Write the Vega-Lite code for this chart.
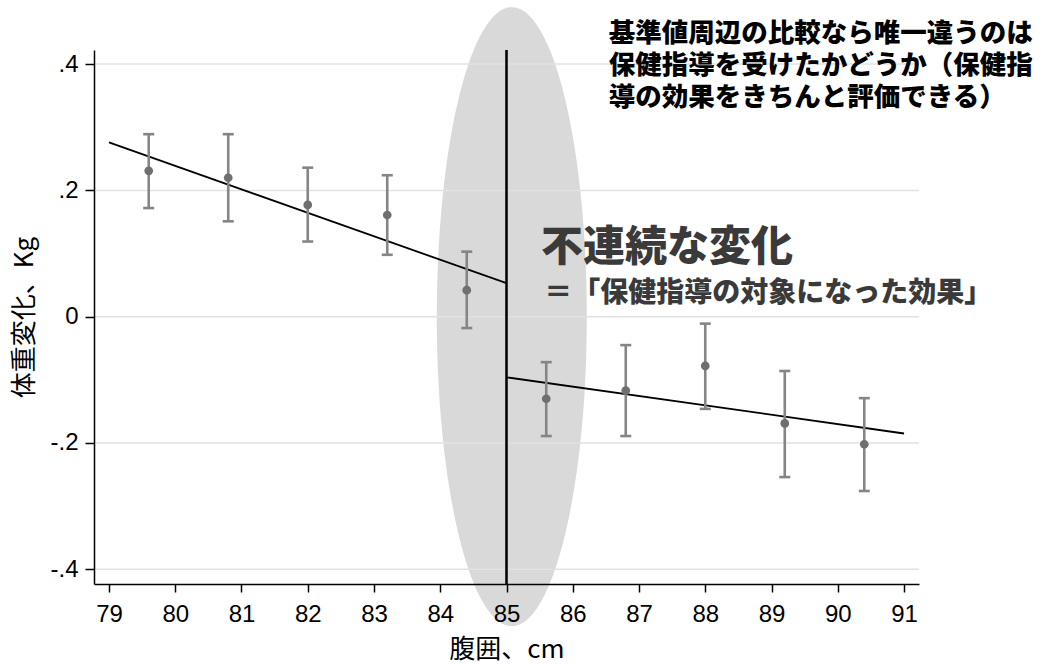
{
  "$schema": "https://vega.github.io/schema/vega-lite/v6.json",
  "autosize": "none",
  "width": 825,
  "height": 534,
  "padding": {"left": 94, "top": 50, "right": 125, "bottom": 80},
  "background": "white",
  "config": {
    "view": {"stroke": null},
    "axis": {
      "domainColor": "black", "domainWidth": 1.5, "tickColor": "black", "tickWidth": 1.5,
      "labelFont": "Liberation Sans", "labelFontSize": 24, "labelColor": "black",
      "titleFont": "Noto Sans CJK JP", "titleFontSize": 26, "titleFontWeight": "normal", "titleColor": "black",
      "grid": false, "zindex": 1
    }
  },
  "datasets": {
    "pts": [
      {"x": 79.6, "y": 0.231, "lo": 0.172, "hi": 0.289},
      {"x": 80.8, "y": 0.220, "lo": 0.151, "hi": 0.289},
      {"x": 82.0, "y": 0.177, "lo": 0.119, "hi": 0.236},
      {"x": 83.2, "y": 0.161, "lo": 0.098, "hi": 0.224},
      {"x": 84.4, "y": 0.042, "lo": -0.018, "hi": 0.103},
      {"x": 85.6, "y": -0.130, "lo": -0.189, "hi": -0.072},
      {"x": 86.8, "y": -0.117, "lo": -0.189, "hi": -0.045},
      {"x": 88.0, "y": -0.078, "lo": -0.146, "hi": -0.011},
      {"x": 89.2, "y": -0.169, "lo": -0.254, "hi": -0.086},
      {"x": 90.4, "y": -0.202, "lo": -0.276, "hi": -0.129}
    ],
    "fit": [
      {"seg": "left", "x": 79, "y": 0.276},
      {"seg": "left", "x": 85, "y": 0.053},
      {"seg": "right", "x": 85, "y": -0.096},
      {"seg": "right", "x": 91, "y": -0.185}
    ],
    "grid": [{"y": -0.4}, {"y": -0.2}, {"y": 0}, {"y": 0.2}, {"y": 0.4}],
    "focus": [{"x": 85.08, "y": 0.0}],
    "notes": [
      {"x": 86.545, "y": 0.468, "text": ["基準値周辺の比較なら唯一違うのは", "保健指導を受けたかどうか（保健指", "導の効果をきちんと評価できる）"]}
    ],
    "big": [{"x": 85.52, "y": 0.108, "text": "不連続な変化"}],
    "sub": [{"x": 85.57, "y": 0.036, "text": "＝「保健指導の対象になった効果」"}]
  },
  "layer": [
    {
      "data": {"name": "focus"},
      "mark": {"type": "point", "filled": true, "opacity": 1, "color": "#d9d9d9", "strokeWidth": 0, "size": 383161,
        "shape": "M 0 -1 C 0.1338 -1 0.2423 -0.5523 0.2423 0 C 0.2423 0.5523 0.1338 1 0 1 C -0.1338 1 -0.2423 0.5523 -0.2423 0 C -0.2423 -0.5523 -0.1338 -1 0 -1 Z"},
      "encoding": {
        "x": {"field": "x", "type": "quantitative",
          "scale": {"domain": [78.774, 91.226], "nice": false, "zero": false},
          "axis": {"values": [79, 80, 81, 82, 83, 84, 85, 86, 87, 88, 89, 90, 91], "tickSize": 8, "labelPadding": 10, "title": "腹囲、cm", "titlePadding": 10, "format": "d", "zindex": 2}},
        "y": {"field": "y", "type": "quantitative",
          "scale": {"domain": [-0.4233, 0.4223], "nice": false, "zero": false},
          "axis": {"values": [-0.4, -0.2, 0, 0.2, 0.4], "tickSize": 9, "labelPadding": 7, "title": "体重変化、Kg", "titlePadding": 12, "zindex": 2,
            "labelExpr": "datum.value == 0 ? '0' : (datum.value < 0 ? '-' : '') + replace(format(abs(datum.value), '.1f'), '0.', '.')"}}
      }
    },
    {
      "data": {"name": "grid"},
      "mark": {"type": "rule", "color": "#e2e2e2", "strokeWidth": 1.5},
      "encoding": {"y": {"field": "y", "type": "quantitative", "title": "体重変化、Kg"}}
    },
    {
      "data": {"name": "grid"},
      "mark": {"type": "rule", "color": "black", "strokeWidth": 1.5},
      "encoding": {"x": {"datum": 85, "type": "quantitative", "title": "腹囲、cm"}}
    },
    {
      "data": {"name": "fit"},
      "mark": {"type": "line", "color": "black", "strokeWidth": 1.8},
      "encoding": {
        "x": {"field": "x", "type": "quantitative", "title": "腹囲、cm"},
        "y": {"field": "y", "type": "quantitative", "title": "体重変化、Kg"},
        "detail": {"field": "seg"}
      }
    },
    {
      "data": {"name": "pts"},
      "mark": {"type": "rule", "color": "#858585", "strokeWidth": 2.6},
      "encoding": {
        "x": {"field": "x", "type": "quantitative", "title": "腹囲、cm"},
        "y": {"field": "lo", "type": "quantitative", "title": "体重変化、Kg"},
        "y2": {"field": "hi"}
      }
    },
    {
      "data": {"name": "pts"},
      "mark": {"type": "tick", "orient": "horizontal", "color": "#858585", "size": 11, "thickness": 2.6, "opacity": 1},
      "encoding": {
        "x": {"field": "x", "type": "quantitative", "title": "腹囲、cm"},
        "y": {"field": "lo", "type": "quantitative", "title": "体重変化、Kg"}
      }
    },
    {
      "data": {"name": "pts"},
      "mark": {"type": "tick", "orient": "horizontal", "color": "#858585", "size": 11, "thickness": 2.6, "opacity": 1},
      "encoding": {
        "x": {"field": "x", "type": "quantitative", "title": "腹囲、cm"},
        "y": {"field": "hi", "type": "quantitative", "title": "体重変化、Kg"}
      }
    },
    {
      "data": {"name": "pts"},
      "mark": {"type": "point", "filled": true, "opacity": 1, "color": "#6f6f6f", "size": 76, "shape": "circle"},
      "encoding": {
        "x": {"field": "x", "type": "quantitative", "title": "腹囲、cm"},
        "y": {"field": "y", "type": "quantitative", "title": "体重変化、Kg"}
      }
    },
    {
      "data": {"name": "notes"},
      "mark": {"type": "text", "align": "left", "baseline": "top", "font": "Noto Sans CJK JP", "fontWeight": 900, "fontSize": 26.5, "lineHeight": 32, "color": "black"},
      "encoding": {
        "x": {"field": "x", "type": "quantitative", "title": "腹囲、cm"},
        "y": {"field": "y", "type": "quantitative", "title": "体重変化、Kg"},
        "text": {"field": "text"}
      }
    },
    {
      "data": {"name": "big"},
      "mark": {"type": "text", "align": "left", "baseline": "middle", "font": "Noto Sans CJK JP", "fontWeight": 900, "fontSize": 42, "color": "#3a3a3a"},
      "encoding": {
        "x": {"field": "x", "type": "quantitative", "title": "腹囲、cm"},
        "y": {"field": "y", "type": "quantitative", "title": "体重変化、Kg"},
        "text": {"field": "text"}
      }
    },
    {
      "data": {"name": "sub"},
      "mark": {"type": "text", "align": "left", "baseline": "middle", "font": "Noto Sans CJK JP", "fontWeight": 900, "fontSize": 28, "color": "#3a3a3a"},
      "encoding": {
        "x": {"field": "x", "type": "quantitative", "title": "腹囲、cm"},
        "y": {"field": "y", "type": "quantitative", "title": "体重変化、Kg"},
        "text": {"field": "text"}
      }
    }
  ]
}
